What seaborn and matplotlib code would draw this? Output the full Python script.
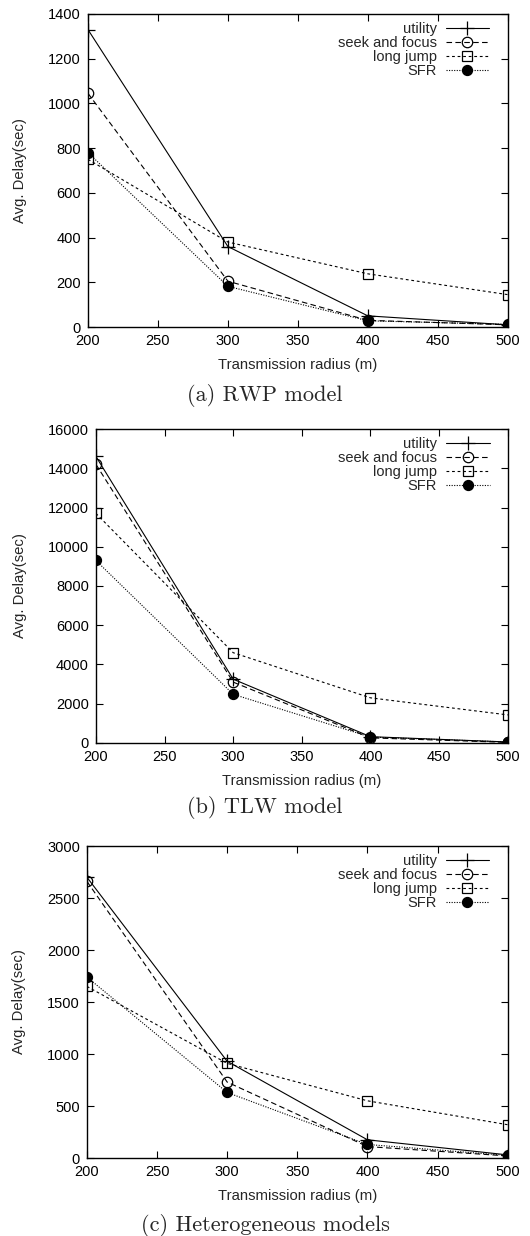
import numpy as np
import pandas as pd
import matplotlib
matplotlib.use("Agg")
import matplotlib.pyplot as plt
import seaborn as sns

# Transmission radius values (x axis)
radius = [200, 300, 400, 500]

# (a) RWP model
rwp_utility = [1330, 360, 50, 10]
rwp_seek = [1045, 205, 30, 10]
rwp_longjump = [750, 380, 238, 145]
rwp_sfr = [780, 182, 28, 12]

# (b) TLW model
tlw_utility = [14600, 3250, 320, 50]
tlw_seek = [14200, 3100, 260, 30]
tlw_longjump = [11700, 4600, 2300, 1430]
tlw_sfr = [9300, 2480, 300, 50]

# (c) Heterogeneous models
het_utility = [2700, 930, 175, 30]
het_seek = [2660, 730, 110, 20]
het_longjump = [1650, 910, 550, 320]
het_sfr = [1740, 630, 130, 25]

series_names = ["utility", "seek and focus", "long jump", "SFR"]
captions = ["(a) RWP model", "(b) TLW model", "(c) Heterogeneous models"]
yticks_list = [np.arange(0, 1401, 200), np.arange(0, 16001, 2000), np.arange(0, 3001, 500)]

sns.set_style("ticks")
plt.rcParams["font.family"] = ["Liberation Sans", "DejaVu Sans"]

styles = {
    "utility": dict(linestyle="-", marker="+", markersize=10, mfc="black"),
    "seek and focus": dict(linestyle=(0, (5, 3)), marker="o", markersize=7.5, mfc="none"),
    "long jump": dict(linestyle=(0, (2.5, 2.5)), marker="s", markersize=7.2, mfc="none"),
    "SFR": dict(linestyle=(0, (1, 1.3)), marker="o", markersize=7.2, mfc="black"),
}

panels = [
    [rwp_utility, rwp_seek, rwp_longjump, rwp_sfr],
    [tlw_utility, tlw_seek, tlw_longjump, tlw_sfr],
    [het_utility, het_seek, het_longjump, het_sfr],
]

# axes boxes [left, bottom, width, height] in figure fraction
boxes = [
    [0.166, 0.7354, 0.792, 0.2533],
    [0.181, 0.3989, 0.777, 0.2540],
    [0.164, 0.0631, 0.794, 0.2524],
]
caption_y = [0.6804, 0.3463, 0.0085]

fig = plt.figure(figsize=(5.3, 12.36), dpi=100)

for i, vals in enumerate(panels):
    ax = fig.add_axes(boxes[i])
    for name, v in zip(series_names, vals):
        sns.lineplot(x=radius, y=v, ax=ax, color="black", linewidth=0.8,
                     mec="black", mew=0.9, label=name, **styles[name])
    ax.set_xlim(200, 500)
    yt = yticks_list[i]
    ax.set_ylim(0, yt[-1])
    ax.set_yticks(yt)
    ax.set_xticks(np.arange(200, 501, 50))
    ax.tick_params(direction="in", top=True, right=True, length=5, width=0.8,
                   labelsize=10.5, colors="black", pad=5)
    for s in ax.spines.values():
        s.set_linewidth(1.0)
        s.set_color("black")
    ax.set_xlabel("Transmission radius (m)", fontsize=10.7, labelpad=7)
    ax.set_ylabel("Avg. Delay(sec)", fontsize=10.7, labelpad=15)
    ax.legend(loc="upper right", bbox_to_anchor=(0.97, 0.992), borderaxespad=0,
              frameon=False, markerfirst=False, fontsize=10.5,
              handlelength=3.0, handletextpad=0.6, labelspacing=0.0,
              numpoints=1)
    fig.text(0.5, caption_y[i], captions[i], ha="center", va="center",
             fontsize=16, family=["cmr10", "DejaVu Serif"])

fig.savefig("out.png", dpi=100)
